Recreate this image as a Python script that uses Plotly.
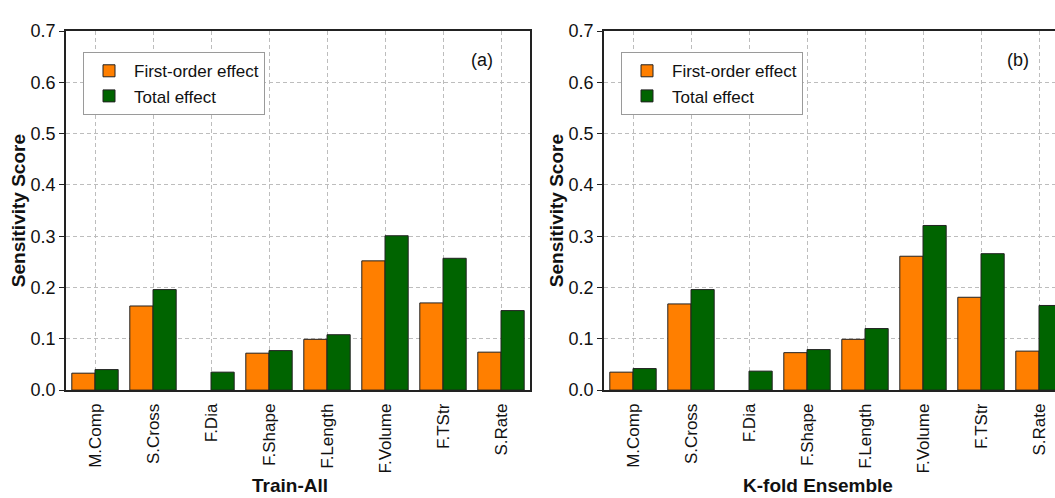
import plotly.graph_objects as go
from plotly.subplots import make_subplots

categories = ["M.Comp", "S.Cross", "F.Dia", "F.Shape", "F.Length", "F.Volume", "F.TStr", "S.Rate"]

train_first = [0.033, 0.164, 0.0, 0.072, 0.099, 0.252, 0.170, 0.074]
train_total = [0.040, 0.196, 0.035, 0.077, 0.108, 0.301, 0.257, 0.155]

kfold_first = [0.035, 0.168, 0.0, 0.073, 0.099, 0.261, 0.181, 0.076]
kfold_total = [0.042, 0.196, 0.037, 0.079, 0.120, 0.321, 0.266, 0.165]

series_names = ["First-order effect", "Total effect"]
panel_titles = ["Train-All", "K-fold Ensemble"]
panel_tags = ["(a)", "(b)"]

ORANGE = "#FF7F00"
GREEN = "#006400"
EDGE = "#222222"
FONT = "Liberation Sans, Arial, sans-serif"

W, H = 1055, 498

fig = make_subplots(rows=1, cols=2)


def edge_widths(vals):
    # no outline on zero-height bars
    return [1 if v > 0 else 0 for v in vals]


for col, (first, total, leg) in enumerate(
    [(train_first, train_total, "legend"), (kfold_first, kfold_total, "legend2")], start=1
):
    fig.add_trace(
        go.Bar(x=categories, y=first, name=series_names[0], legend=leg,
               marker=dict(color=ORANGE, line=dict(color=EDGE, width=edge_widths(first)))),
        row=1, col=col)
    fig.add_trace(
        go.Bar(x=categories, y=total, name=series_names[1], legend=leg,
               marker=dict(color=GREEN, line=dict(color=EDGE, width=edge_widths(total)))),
        row=1, col=col)

# pixel geometry
y_top, y_bot = 22, 396
left_dom = [66 / W, 530 / W]
right_dom = [604 / W, 1.0]
ydom = [1 - y_bot / H, 1 - y_top / H]

grid = dict(showgrid=True, gridcolor="#bdbdbd", griddash="4px,3px", gridwidth=1)

fig.update_xaxes(
    tickangle=-90, tickfont=dict(size=17, family=FONT, color="#111"),
    ticklabelstandoff=5,
    showline=True, linecolor=EDGE, linewidth=1.5, ticks="", **grid)
fig.update_yaxes(
    range=[0, 0.7], dtick=0.1, tickformat=".1f",
    tickfont=dict(size=18, family=FONT, color="#111"),
    ticks="outside", ticklen=5, tickcolor=EDGE,
    showline=True, linecolor=EDGE, linewidth=1.5, zeroline=False,
    title=dict(text="<b>Sensitivity Score</b>", font=dict(size=19, family=FONT, color="#111"), standoff=0),
    **grid)

fig.update_layout(
    xaxis=dict(domain=left_dom, range=[-0.5, 7.5], mirror=True),
    xaxis2=dict(domain=right_dom, range=[-0.5, -0.5 + (W - 604) / 58], mirror=True),
    yaxis=dict(domain=ydom, mirror=True),
    yaxis2=dict(domain=ydom, mirror=False),
)

legend_common = dict(
    xanchor="left", yanchor="top", bgcolor="white",
    bordercolor="#9a9a9a", borderwidth=1,
    font=dict(size=17, family=FONT, color="#111"),
    tracegroupgap=0, itemwidth=40, orientation="v", traceorder="normal",
)
fig.update_layout(
    legend=dict(x=83 / W, y=1 - 44 / H, **legend_common),
    legend2=dict(x=621 / W, y=1 - 44 / H, **legend_common),
)

tag_font = dict(size=18, family=FONT, color="#111")
title_font = dict(size=19, family=FONT, color="#111")
annotations = [
    dict(text=panel_tags[0], x=482 / W, y=1 - 52 / H, xref="paper", yref="paper",
         xanchor="center", yanchor="middle", showarrow=False, font=tag_font),
    dict(text=panel_tags[1], x=1018 / W, y=1 - 52 / H, xref="paper", yref="paper",
         xanchor="center", yanchor="middle", showarrow=False, font=tag_font),
    dict(text="<b>" + panel_titles[0] + "</b>", x=290 / W, y=0, xref="paper", yref="paper",
         xanchor="center", yanchor="bottom", yshift=-10, showarrow=False, font=title_font),
    dict(text="<b>" + panel_titles[1] + "</b>", x=818 / W, y=0, xref="paper", yref="paper",
         xanchor="center", yanchor="bottom", yshift=-10, showarrow=False, font=title_font),
]

fig.update_layout(
    width=W, height=H,
    margin=dict(l=0, r=0, t=0, b=0),
    paper_bgcolor="white", plot_bgcolor="white",
    barmode="group", bargap=0.2, bargroupgap=0,
    font=dict(family=FONT, color="#111"),
    annotations=annotations,
)

fig.write_html("out.html")
